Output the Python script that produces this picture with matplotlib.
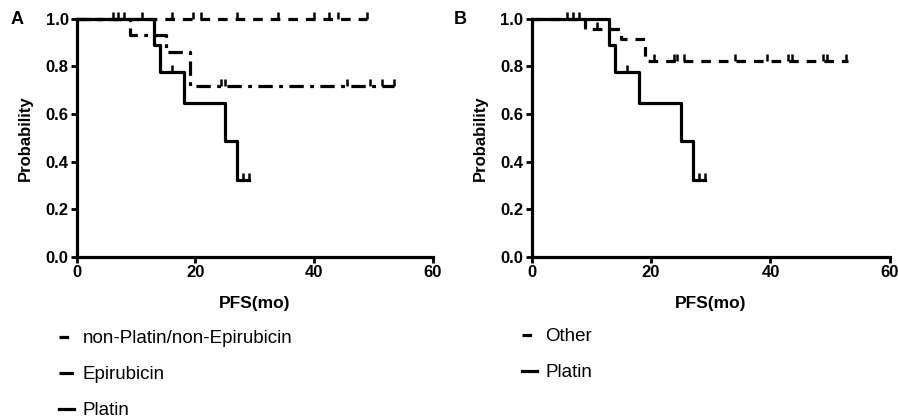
import numpy as np
import matplotlib.pyplot as plt
from matplotlib.path import Path

# ---- data (Kaplan-Meier, PFS in months) ----
# step curves: times where the curve changes, survival after each step
platin_t = [0, 13, 14, 18, 25, 27, 29]
platin_s = [1.0, 0.889, 0.778, 0.648, 0.486, 0.324, 0.324]
platin_cens = [16, 28, 29]

nonpe_t = [0, 49]
nonpe_s = [1.0, 1.0]
nonpe_cens = [6, 7, 8, 11, 16, 19.5, 21, 27, 34, 40, 42.5, 44, 49]

epi_t = [0, 9, 15, 19, 53.5]
epi_s = [1.0, 0.933, 0.862, 0.718, 0.718]
epi_cens = [24.3, 25, 45.5, 49.5, 51.5, 53.5]

other_t = [0, 9, 15, 19, 53]
other_s = [1.0, 0.958, 0.916, 0.824, 0.824]
other_cens = [6, 7, 8, 9, 11, 20.5, 23.8, 24.4, 25.5, 34, 39.5, 43, 43.6, 48.8, 49.4, 52.7]

labels_a = ["non-Platin/non-Epirubicin", "Epirubicin", "Platin"]
labels_b = ["Other", "Platin"]
xticks = [0, 20, 40, 60]
yticks = [0.0, 0.2, 0.4, 0.6, 0.8, 1.0]

# upward censor tick
TICK = Path([(0, 0), (0, 1)])

DASHED = (0, (3, 2.5))
DASHDOT = (0, (4.5, 2, 1.2, 2))


def surv_at(t, times, surv):
    idx = np.searchsorted(times, t, side="right") - 1
    return np.asarray(surv)[idx]


def km(ax, times, surv, cens, ls, label):
    line, = ax.step(times, surv, where="post", color="black", lw=2.3,
                    linestyle=ls, label=label)
    ax.plot(cens, surv_at(cens, times, surv), linestyle="none",
            marker=TICK, markersize=10, markeredgewidth=1.8, color="black")
    return line


def style(ax):
    for side in ("top", "right"):
        ax.spines[side].set_visible(False)
    for side in ("left", "bottom"):
        ax.spines[side].set_linewidth(2.3)
        ax.spines[side].set_zorder(5)
    ax.set_xlim(0, 60)
    ax.set_ylim(0, 1.0)
    ax.set_xticks(xticks)
    ax.set_yticks(yticks)
    ax.set_yticklabels([f"{v:.1f}" for v in yticks])
    ax.tick_params(direction="out", length=4, width=2, labelsize=12, pad=2)
    for lab in ax.get_xticklabels() + ax.get_yticklabels():
        lab.set_fontweight("bold")
    ax.set_xlabel("PFS(mo)", fontsize=12.5, fontweight="bold", labelpad=11)
    ax.set_ylabel("Probability", fontsize=12, fontweight="bold", labelpad=9)
    for ln in ax.lines:
        ln.set_clip_on(False)


plt.rcParams["font.family"] = ["Liberation Sans", "DejaVu Sans"]
fig = plt.figure(figsize=(8.98, 4.18), dpi=100)
ax_a = fig.add_axes([0.0857, 0.385, 0.396, 0.57])
ax_b = fig.add_axes([0.592, 0.385, 0.399, 0.57])

h1 = km(ax_a, nonpe_t, nonpe_s, nonpe_cens, DASHED, labels_a[0])
h2 = km(ax_a, epi_t, epi_s, epi_cens, DASHDOT, labels_a[1])
h3 = km(ax_a, platin_t, platin_s, platin_cens, "-", labels_a[2])
style(ax_a)

g1 = km(ax_b, other_t, other_s, other_cens, DASHED, labels_b[0])
g2 = km(ax_b, platin_t, platin_s, platin_cens, "-", labels_b[1])
style(ax_b)

fig.text(0.012, 0.953, "A", fontsize=13, fontweight="bold", va="center")
fig.text(0.505, 0.953, "B", fontsize=13, fontweight="bold", va="center")

leg_kw = dict(frameon=False, fontsize=13.5, handlelength=0.8, handletextpad=0.45,
              labelspacing=1.0, borderaxespad=0, borderpad=0)
fig.legend([h1, h2, h3], labels_a, loc="upper left",
           bbox_to_anchor=(0.066, 0.21), **leg_kw)
fig.legend([g1, g2], labels_b, loc="upper left",
           bbox_to_anchor=(0.581, 0.215), **leg_kw)

fig.savefig("out.png", dpi=100)
